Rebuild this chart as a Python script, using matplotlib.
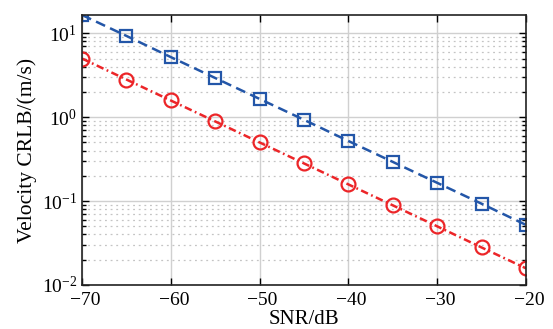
import numpy as np
import matplotlib.pyplot as plt
import matplotlib.transforms as mtransforms
from matplotlib.ticker import LogLocator, NullFormatter

snr_db = [-70, -65, -60, -55, -50, -45, -40, -35, -30, -25, -20]
crlb_blue = [16.5, 9.3, 5.2, 2.93, 1.65, 0.93, 0.52, 0.293, 0.165, 0.093, 0.052]
crlb_red = [5.0, 2.81, 1.58, 0.89, 0.50, 0.281, 0.158, 0.089, 0.050, 0.028, 0.0158]
xticks = [-70, -60, -50, -40, -30, -20]
yticks = [1e-2, 1e-1, 1e0, 1e1]
yticklabels = [r'$10^{-2}$', r'$10^{-1}$', r'$10^{0}$', r'$10^{1}$']

plt.rcParams['font.family'] = 'serif'
plt.rcParams['font.serif'] = ['Liberation Serif', 'DejaVu Serif']
plt.rcParams['mathtext.fontset'] = 'custom'
plt.rcParams['mathtext.rm'] = 'Liberation Serif'
plt.rcParams['mathtext.it'] = 'Liberation Serif:italic'
plt.rcParams['axes.unicode_minus'] = True

fig = plt.figure(figsize=(5.53, 3.29), dpi=100)
ax = fig.add_axes([82 / 553, 1 - 285 / 329, 444 / 553, 270 / 329])

ax.semilogy(snr_db, crlb_blue, ls=(0, (4, 2.2)), color='#2356A8', lw=1.8,
            marker='s', ms=8.5, mfc='none', mew=1.6)
ax.semilogy(snr_db, crlb_red, ls=(0, (3, 1.4, 0.7, 1.4)), color='#EC2528', lw=1.8,
            marker='o', ms=10, mfc='none', mew=1.6)

ax.set_xlim(-70, -20)
ax.set_ylim(1e-2, 16.5)
ax.set_xticks(xticks)
ax.set_yticks(yticks)
ax.set_yticklabels(yticklabels)
ax.yaxis.set_minor_locator(LogLocator(base=10, subs=np.arange(2, 10)))
ax.yaxis.set_minor_formatter(NullFormatter())

ax.grid(True, which='major', color='#d0d0d0', lw=1.0, ls='-')
ax.grid(True, which='minor', axis='y', color='#c4c4c4', lw=0.9, ls=(0, (1.5, 3)))
ax.set_axisbelow(True)

ax.tick_params(which='both', direction='in', top=True, right=True, labelsize=14)
ax.tick_params(which='major', length=5, width=1)
ax.tick_params(which='minor', length=3, width=1)
ax.tick_params(axis='x', which='minor', top=False, bottom=False)
ax.tick_params(axis='x', pad=5)
for s in ax.spines.values():
    s.set_linewidth(1.2)
    s.set_color('#222222')

# nudge x tick labels slightly right
shift = mtransforms.ScaledTranslation(3 / 100, 0, fig.dpi_scale_trans)
for lbl in ax.get_xticklabels():
    lbl.set_transform(lbl.get_transform() + shift)

ax.set_xlabel('SNR/dB', fontsize=15, labelpad=1)
ax.set_ylabel('Velocity CRLB/(m/s)', fontsize=15.5, labelpad=3)

fig.savefig('out.png', dpi=100)
